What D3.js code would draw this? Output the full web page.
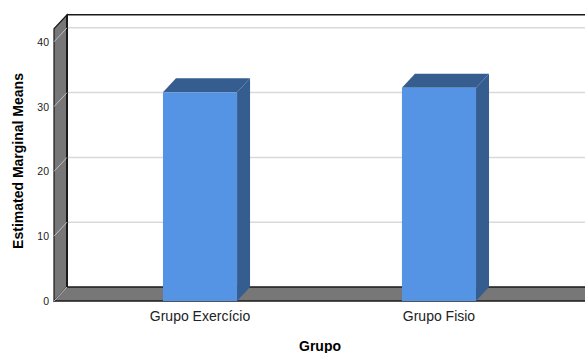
<!DOCTYPE html>
<html>
<head>
<meta charset="utf-8">
<script src="https://cdn.jsdelivr.net/npm/d3@7"></script>
<style>
  body { margin: 0; background: #fff; }
  svg { display: block; font-family: "Liberation Sans", Arial, sans-serif; }
</style>
</head>
<body>
<svg id="chart" width="585" height="353"></svg>
<script>
// Estimated marginal means by group
const categories = ["Grupo Exercício", "Grupo Fisio"];
const means = [32.2, 32.9];
const yTicks = [0, 10, 20, 30, 40];

const svg = d3.select("#chart");
const W = 585, H = 353;

// front plane of the 3D box, and depth offset to the back wall
const left = 54, right = 585, bottom = 301;
const dx = 13, dy = 14;

const y = d3.scaleLinear().domain([0, 42]).range([bottom, bottom - 42 * 6.48]);
const x = d3.scalePoint().domain(categories).range([left, right]).padding(0.611);
const barW = x.step() * 0.31;

const wallTop = y(42) - dy;
const frontTop = y(42);

// back wall
svg.append("rect")
  .attr("x", left + dx).attr("y", wallTop)
  .attr("width", W - left - dx + 10).attr("height", bottom - dy - wallTop)
  .attr("fill", "#fff");

// gridlines on the back wall
svg.append("g").selectAll("line").data(yTicks.slice(1)).join("line")
  .attr("x1", left + dx).attr("x2", W)
  .attr("y1", d => y(d) - dy).attr("y2", d => y(d) - dy)
  .attr("stroke", "#d9d9d9").attr("stroke-width", 1.5);

// left side wall
svg.append("path")
  .attr("d", d3.line()([[left, bottom], [left, frontTop], [left + dx, wallTop], [left + dx, bottom - dy]]) + "Z")
  .attr("fill", "#777777").attr("stroke", "#1a1a1a").attr("stroke-width", 1.2);

// floor
svg.append("path")
  .attr("d", d3.line()([[left, bottom], [left + dx, bottom - dy], [W + 5, bottom - dy], [W + 5, bottom]]) + "Z")
  .attr("fill", "#777777");

// box edges
const edges = svg.append("g").attr("stroke", "#1a1a1a").attr("fill", "none");
edges.append("line").attr("x1", left + dx).attr("x2", W).attr("y1", wallTop).attr("y2", wallTop).attr("stroke-width", 1.5);
edges.append("line").attr("x1", left + dx).attr("x2", left + dx).attr("y1", wallTop).attr("y2", bottom - dy).attr("stroke-width", 2);
edges.append("line").attr("x1", left + dx).attr("x2", W).attr("y1", bottom - dy).attr("y2", bottom - dy).attr("stroke-width", 1.5);
edges.append("line").attr("x1", left).attr("x2", W).attr("y1", bottom).attr("y2", bottom).attr("stroke-width", 1.5);

// tick connectors from front axis to back wall
svg.append("g").selectAll("line").data(yTicks).join("line")
  .attr("x1", left).attr("y1", d => y(d))
  .attr("x2", left + dx).attr("y2", d => y(d) - dy)
  .attr("stroke", "#bdbdbd").attr("stroke-width", 1);

// bars
const bars = svg.append("g").selectAll("g").data(categories).join("g");
bars.each(function(c, i) {
  const g = d3.select(this);
  const x1 = x(c) - barW / 2, x2 = x(c) + barW / 2;
  const yt = y(means[i]);
  g.append("path")
    .attr("d", d3.line()([[x2, yt], [x2 + dx, yt - dy], [x2 + dx, bottom - dy], [x2, bottom]]) + "Z")
    .attr("fill", "#365d8f");
  g.append("path")
    .attr("d", d3.line()([[x1, yt], [x1 + dx, yt - dy], [x2 + dx, yt - dy], [x2, yt]]) + "Z")
    .attr("fill", "#365d8f");
  g.append("rect")
    .attr("x", x1).attr("y", yt).attr("width", barW).attr("height", bottom - yt)
    .attr("fill", "#5594e4");
});

// y tick labels
svg.append("g").selectAll("text").data(yTicks).join("text")
  .attr("x", left - 5).attr("y", d => y(d) + 4)
  .attr("text-anchor", "end").attr("font-size", 10.5).attr("fill", "#222")
  .text(d => d);

// x category labels
svg.append("g").selectAll("text").data(categories).join("text")
  .attr("x", d => x(d)).attr("y", bottom + 20)
  .attr("text-anchor", "middle").attr("font-size", 14).attr("fill", "#222")
  .text(d => d);

// axis titles
svg.append("text")
  .attr("x", 320).attr("y", 351)
  .attr("text-anchor", "middle").attr("font-size", 14).attr("font-weight", "bold")
  .text("Grupo");
svg.append("text")
  .attr("transform", "translate(23,161) rotate(-90)")
  .attr("text-anchor", "middle").attr("font-size", 14).attr("font-weight", "bold")
  .text("Estimated Marginal Means");
</script>
</body>
</html>
